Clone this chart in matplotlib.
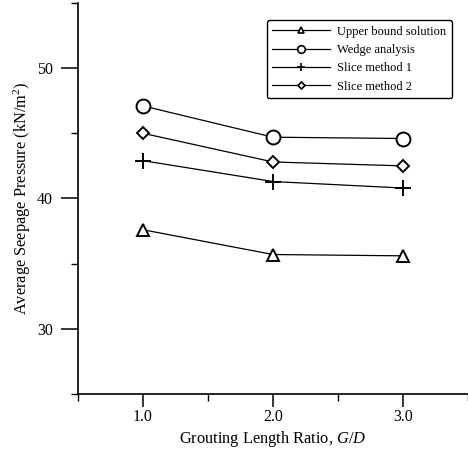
import matplotlib
matplotlib.use('Agg')
from matplotlib import pyplot as plt
from matplotlib.ticker import MultipleLocator

# grouting length ratio G/D
ratio = [1.0, 2.0, 3.0]

# average seepage pressure (kN/m2)
upper_bound = [37.6, 35.7, 35.6]
wedge = [47.1, 44.7, 44.6]
slice1 = [42.9, 41.3, 40.8]
slice2 = [45.0, 42.8, 42.5]

labels = ['Upper bound solution', 'Wedge analysis', 'Slice method 1', 'Slice method 2']

plt.rcParams['font.family'] = ['Liberation Serif', 'DejaVu Serif']
plt.rcParams['mathtext.fontset'] = 'custom'
plt.rcParams['mathtext.it'] = 'Liberation Serif:italic'
plt.rcParams['mathtext.rm'] = 'Liberation Serif'

fig = plt.figure(figsize=(4.68, 4.59), dpi=100)
ax = fig.add_axes([0.1667, 0.1416, 0.8333, 0.852])

series = [upper_bound, wedge, slice1, slice2]
markers = ['^', 'o', '+', 'D']
sizes = [9, 10, 11, 6.5]
handles = []
for vals, m, s, lab in zip(series, markers, sizes, labels):
    ax.plot(ratio, vals, color='black', lw=0.9, marker=m, ms=s,
            mfc='white', mec='black', mew=1.4, label=lab)
    # smaller markers for the legend
    h, = ax.plot([], [], color='black', lw=0.9, marker=m, ms=s * 0.55,
                 mfc='white', mec='black', mew=1.2, label=lab)
    handles.append(h)

ax.set_xlim(0.5, 3.5)
ax.set_ylim(25, 55)
ax.xaxis.set_minor_locator(MultipleLocator(0.5))
ax.yaxis.set_minor_locator(MultipleLocator(5))
ax.set_xticks([1.0, 2.0, 3.0])
ax.set_xticklabels(['1.0', '2.0', '3.0'])
ax.set_yticks([30, 40, 50])

ax.spines['top'].set_visible(False)
ax.spines['right'].set_visible(False)
ax.spines['left'].set_linewidth(1.2)
ax.spines['bottom'].set_linewidth(1.2)
ax.tick_params(axis='both', which='major', direction='out', length=9, width=1.1,
               labelsize=11.5, pad=2)
ax.tick_params(axis='y', which='major', length=12, pad=6)
ax.tick_params(axis='both', which='minor', direction='out', length=5, width=1.0)

ax.set_xlabel('Grouting Length Ratio, $\\it{G/D}$', fontsize=11.8, labelpad=3)
ax.set_ylabel('Average Seepage Pressure (kN/m$^2$)', fontsize=11.8, labelpad=3)

leg = ax.legend(handles=handles, loc='upper right', bbox_to_anchor=(0.975, 0.972),
                fontsize=9, frameon=True, fancybox=True, edgecolor='black',
                handlelength=4.6, handletextpad=0.6, labelspacing=0.5,
                borderpad=0.45, framealpha=1)
leg.get_frame().set_linewidth(1.0)

fig.savefig('out.png', dpi=100)
